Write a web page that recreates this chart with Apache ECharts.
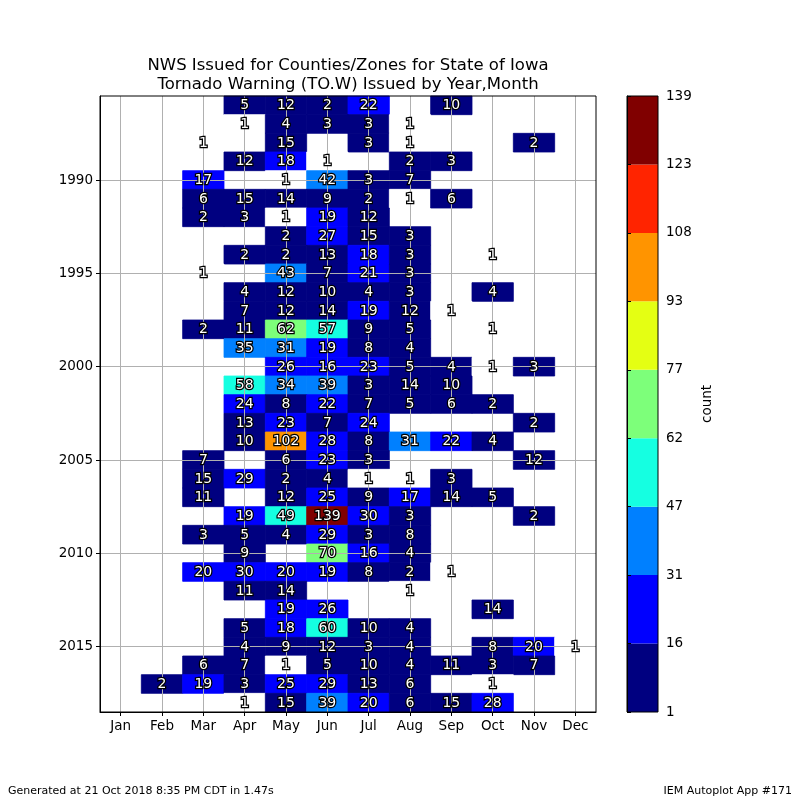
<!DOCTYPE html>
<html>
<head>
<meta charset="utf-8">
<script src="https://cdn.jsdelivr.net/npm/echarts@6/dist/echarts.min.js"></script>
<style>
  html, body { margin: 0; padding: 0; background: #fff; }
  #chart { width: 800px; height: 800px; }
</style>
</head>
<body>
<div id="chart"></div>
<script>
var months = ['Jan','Feb','Mar','Apr','May','Jun','Jul','Aug','Sep','Oct','Nov','Dec'];
var years = [];
for (var yr = 1986; yr <= 2018; yr++) years.push(yr);
var yearTicks = [1990, 1995, 2000, 2005, 2010, 2015];

// warnings per year (rows) and month (Jan..Dec)
var counts = [
  [0,0,0,5,12,2,22,0,10,0,0,0],    // 1986
  [0,0,0,1,4,3,3,1,0,0,0,0],       // 1987
  [0,0,1,0,15,0,3,1,0,0,2,0],      // 1988
  [0,0,0,12,18,1,0,2,3,0,0,0],     // 1989
  [0,0,17,0,1,42,3,7,0,0,0,0],     // 1990
  [0,0,6,15,14,9,2,1,6,0,0,0],     // 1991
  [0,0,2,3,1,19,12,0,0,0,0,0],     // 1992
  [0,0,0,0,2,27,15,3,0,0,0,0],     // 1993
  [0,0,0,2,2,13,18,3,0,1,0,0],     // 1994
  [0,0,1,0,43,7,21,3,0,0,0,0],     // 1995
  [0,0,0,4,12,10,4,3,0,4,0,0],     // 1996
  [0,0,0,7,12,14,19,12,1,0,0,0],   // 1997
  [0,0,2,11,62,57,9,5,0,1,0,0],    // 1998
  [0,0,0,35,31,19,8,4,0,0,0,0],    // 1999
  [0,0,0,0,26,16,23,5,4,1,3,0],    // 2000
  [0,0,0,58,34,39,3,14,10,0,0,0],  // 2001
  [0,0,0,24,8,22,7,5,6,2,0,0],     // 2002
  [0,0,0,13,23,7,24,0,0,0,2,0],    // 2003
  [0,0,0,10,102,28,8,31,22,4,0,0], // 2004
  [0,0,7,0,6,23,3,0,0,0,12,0],     // 2005
  [0,0,15,29,2,4,1,1,3,0,0,0],     // 2006
  [0,0,11,0,12,25,9,17,14,5,0,0],  // 2007
  [0,0,0,19,49,139,30,3,0,0,2,0],  // 2008
  [0,0,3,5,4,29,3,8,0,0,0,0],      // 2009
  [0,0,0,9,0,70,16,4,0,0,0,0],     // 2010
  [0,0,20,30,20,19,8,2,1,0,0,0],   // 2011
  [0,0,0,11,14,0,0,1,0,0,0,0],     // 2012
  [0,0,0,0,19,26,0,0,0,14,0,0],    // 2013
  [0,0,0,5,18,60,10,4,0,0,0,0],    // 2014
  [0,0,0,4,9,12,3,4,0,8,20,1],     // 2015
  [0,0,6,7,1,5,10,4,11,3,7,0],     // 2016
  [0,2,19,3,25,29,13,6,0,1,0,0],   // 2017
  [0,0,0,1,15,39,20,6,15,28,0,0]   // 2018
];

var cbTicks = [1, 16, 31, 47, 62, 77, 93, 108, 123, 139];
var cbColors = ['#000080','#0000ff','#0080ff','#15ffe1','#7dff7a','#e4ff13','#ff9400','#ff2400','#800000'];

var font = 'DejaVu Sans';

// flatten to [month, year, value], skipping empty cells
var cells = [];
for (var i = 0; i < years.length; i++) {
  for (var m = 0; m < 12; m++) {
    if (counts[i][m] > 0) cells.push([m + 1, years[i], counts[i][m]]);
  }
}

var pieces = [{ lte: 1, color: '#ffffff' }];
for (var k = 0; k < cbColors.length; k++) {
  var p = { gte: cbTicks[k], lt: cbTicks[k + 1], color: cbColors[k] };
  if (k === 0) { p = { gt: 1, lt: cbTicks[1], color: cbColors[0] }; }
  if (k === cbColors.length - 1) { p = { gte: cbTicks[k], lte: cbTicks[k + 1] + 100, color: cbColors[k] }; }
  pieces.push(p);
}
var cbData = [];
for (var c = 0; c < cbColors.length; c++) cbData.push([c]);

var myChart = echarts.init(document.getElementById('chart'));

var option = {
  animation: false,
  backgroundColor: '#fff',
  textStyle: { fontFamily: font },
  title: [{
    text: 'NWS Issued for Counties/Zones for State of Iowa\nTornado Warning (TO.W) Issued by Year,Month',
    left: 348, top: 56, textAlign: 'center', padding: 0,
    textStyle: { fontFamily: font, fontSize: 16.5, fontWeight: 'normal', color: '#000', lineHeight: 19 }
  }, {
    text: 'Generated at 21 Oct 2018 8:35 PM CDT in 1.47s',
    left: 8, top: 786, padding: 0,
    textStyle: { fontFamily: font, fontSize: 11, fontWeight: 'normal', color: '#000' }
  }, {
    text: 'IEM Autoplot App #171',
    right: 8, top: 786, padding: 0,
    textStyle: { fontFamily: font, fontSize: 11, fontWeight: 'normal', color: '#000' }
  }],
  visualMap: {
    type: 'piecewise', show: false, seriesIndex: 0, dimension: 2, pieces: pieces
  },
  grid: [
    { left: 100, top: 96, width: 496, height: 616, show: true, z: 4,
      backgroundColor: 'transparent', borderColor: '#000', borderWidth: 1 },
    { left: 627, top: 96, width: 31, height: 616, show: true, z: 4,
      backgroundColor: 'transparent', borderColor: '#000', borderWidth: 1 }
  ],
  xAxis: [{
    type: 'value', gridIndex: 0, min: 0.5, max: 12.5, z: 3,
    axisLine: { show: true, onZero: false, lineStyle: { color: '#000' } },
    axisTick: { show: true, length: 4, customValues: [1,2,3,4,5,6,7,8,9,10,11,12], lineStyle: { color: '#000' } },
    axisLabel: { customValues: [1,2,3,4,5,6,7,8,9,10,11,12], margin: 7, fontSize: 13.5, color: '#000', fontFamily: font,
      formatter: function (v) { return months[Math.round(v) - 1]; } },
    splitLine: { show: true, lineStyle: { color: '#b0b0b0', width: 1 } }
  }, {
    type: 'value', gridIndex: 1, min: 0, max: 1, show: false
  }],
  yAxis: [{
    type: 'value', gridIndex: 0, inverse: true, min: 1985.5, max: 2018.5, z: 3,
    axisLine: { show: true, onZero: false, lineStyle: { color: '#000' } },
    axisTick: { show: true, length: 4, customValues: yearTicks, lineStyle: { color: '#000' } },
    axisLabel: { customValues: yearTicks, margin: 7, fontSize: 13.5, color: '#000', fontFamily: font,
      formatter: function (v) { return String(Math.round(v)); } },
    splitLine: { show: true, lineStyle: { color: '#b0b0b0', width: 1 } }
  }, {
    type: 'value', gridIndex: 1, min: 0, max: 9, interval: 1, position: 'right', z: 5,
    name: 'count', nameLocation: 'middle', nameGap: 42, nameRotate: 90,
    nameTextStyle: { fontFamily: font, fontSize: 13.5, color: '#000' },
    axisLine: { show: true, lineStyle: { color: '#000' } },
    axisTick: { show: true, length: 4, lineStyle: { color: '#000' } },
    axisLabel: { margin: 8, fontSize: 13.5, color: '#000', fontFamily: font,
      formatter: function (v) { return cbTicks[Math.round(v)]; } },
    splitLine: { show: false }
  }],
  series: [{
    type: 'custom', name: 'cells', xAxisIndex: 0, yAxisIndex: 0, z: 1,
    data: cells,
    renderItem: function (params, api) {
      var p0 = api.coord([api.value(0) - 0.5, api.value(1) - 0.5]);
      var p1 = api.coord([api.value(0) + 0.5, api.value(1) + 0.5]);
      var col = api.visual('color');
      return {
        type: 'rect',
        shape: { x: Math.min(p0[0], p1[0]), y: Math.min(p0[1], p1[1]),
                 width: Math.abs(p1[0] - p0[0]), height: Math.abs(p1[1] - p0[1]) },
        style: { fill: col, stroke: col, lineWidth: 0.8 }
      };
    }
  }, {
    type: 'custom', name: 'labels', xAxisIndex: 0, yAxisIndex: 0, z: 6,
    data: cells,
    renderItem: function (params, api) {
      var pt = api.coord([api.value(0), api.value(1)]);
      return {
        type: 'text',
        style: {
          text: String(api.value(2)), x: pt[0], y: pt[1] + 0.5,
          fill: '#ffffff', stroke: '#000000', lineWidth: 2.5,
          fontSize: 14, fontFamily: font, align: 'center', verticalAlign: 'middle'
        }
      };
    }
  }, {
    type: 'custom', name: 'colorbar', xAxisIndex: 1, yAxisIndex: 1, z: 1,
    data: cbData,
    renderItem: function (params, api) {
      var idx = api.value(0);
      var p0 = api.coord([0, idx]);
      var p1 = api.coord([1, idx + 1]);
      return {
        type: 'rect',
        shape: { x: p0[0], y: p1[1], width: p1[0] - p0[0], height: p0[1] - p1[1] },
        style: { fill: cbColors[idx] }
      };
    }
  }]
};

myChart.setOption(option);
</script>
</body>
</html>
